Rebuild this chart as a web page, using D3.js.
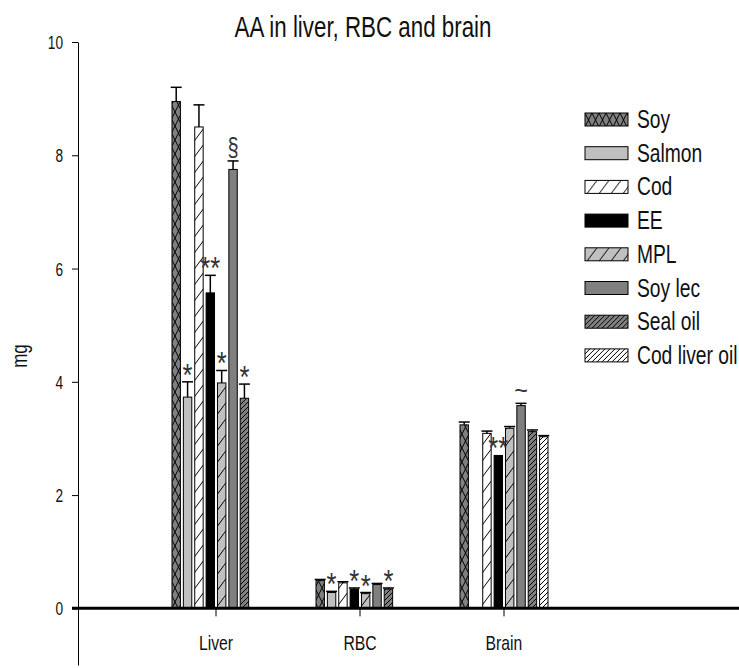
<!DOCTYPE html>
<html>
<head>
<meta charset="utf-8">
<script src="https://cdn.jsdelivr.net/npm/d3@7"></script>
<style>
  body { margin: 0; background: white; }
  text { font-family: "Liberation Sans", Arial, sans-serif; fill: #111; }
</style>
</head>
<body>
<div id="chart"></div>
<script>
const width = 739, height = 668;

// categories and series
const groups = ["Liver", "RBC", "Brain"];
const series = ["Soy", "Salmon", "Cod", "EE", "MPL", "Soy lec", "Seal oil", "Cod liver oil"];

// values per series (Liver, RBC, Brain), null = no bar
const soy      = [8.95, 0.49, 3.24];
const salmon   = [3.73, 0.28, null];
const cod      = [8.50, 0.45, 3.09];
const ee       = [5.57, 0.34, 2.70];
const mpl      = [3.98, 0.26, 3.18];
const soyLec   = [7.75, 0.42, 3.58];
const sealOil  = [3.71, 0.34, 3.12];
const codLiver = [null, null, 3.03];

// error (upper) per series
const soyErr      = [0.25, 0.02, 0.05];
const salmonErr   = [0.27, 0.02, null];
const codErr      = [0.39, 0.02, 0.04];
const eeErr       = [0.31, 0.02, 0.00];
const mplErr      = [0.22, 0.02, 0.03];
const soyLecErr   = [0.15, 0.02, 0.04];
const sealOilErr  = [0.25, 0.02, 0.03];
const codLiverErr = [null, null, 0.02];

// significance marks per series
const soyMark      = ["", "", ""];
const salmonMark   = ["*", "*", ""];
const codMark      = ["", "", ""];
const eeMark       = ["**", "*", "**"];
const mplMark      = ["*", "*", ""];
const soyLecMark   = ["§", "", "~"];
const sealOilMark  = ["*", "*", ""];
const codLiverMark = ["", "", ""];

const yTicks = [0, 2, 4, 6, 8, 10];

const valueRows = [soy, salmon, cod, ee, mpl, soyLec, sealOil, codLiver];
const errRows = [soyErr, salmonErr, codErr, eeErr, mplErr, soyLecErr, sealOilErr, codLiverErr];
const markRows = [soyMark, salmonMark, codMark, eeMark, mplMark, soyLecMark, sealOilMark, codLiverMark];

// flat table for drawing
const data = [];
series.forEach((s, i) => {
  groups.forEach((g, j) => {
    if (valueRows[i][j] !== null) {
      data.push({series: s, group: g, value: valueRows[i][j], err: errRows[i][j], mark: markRows[i][j]});
    }
  });
});

const svg = d3.select("#chart").append("svg")
  .attr("width", width)
  .attr("height", height)
  .style("background-color", "white");

// fill patterns
const defs = svg.append("defs");
function pattern(id, w, h, bg, d, sw) {
  const p = defs.append("pattern")
    .attr("id", id)
    .attr("patternUnits", "userSpaceOnUse")
    .attr("width", w).attr("height", h);
  p.append("rect").attr("width", w).attr("height", h).attr("fill", bg);
  p.append("path").attr("d", d).attr("stroke", "#000").attr("stroke-width", sw).attr("fill", "none");
}
pattern("p-soy", 14, 14, "#808080", "M0,0L7,14L14,0M0,14L7,0L14,14", 1);
pattern("p-cod", 12, 16, "#ffffff", "M0,16L12,0", 1);
pattern("p-mpl", 12, 16, "#c0c0c0", "M0,16L12,0", 1);
pattern("p-seal", 5, 5, "#808080", "M0,5L5,0M-1,1L1,-1M4,6L6,4", 1);
pattern("p-clo", 5, 5, "#ffffff", "M0,5L5,0M-1,1L1,-1M4,6L6,4", 1);

const fills = {
  "Soy": "url(#p-soy)",
  "Salmon": "#c0c0c0",
  "Cod": "url(#p-cod)",
  "EE": "#000000",
  "MPL": "url(#p-mpl)",
  "Soy lec": "#808080",
  "Seal oil": "url(#p-seal)",
  "Cod liver oil": "url(#p-clo)"
};

// scales
const x0 = d3.scaleBand()
  .domain(groups)
  .range([144, 576]);

const x1 = d3.scaleBand()
  .domain(series)
  .range([x0.bandwidth() / 2 - 44, x0.bandwidth() / 2 + 44])
  .paddingInner(0.26);

const y = d3.scaleLinear()
  .domain([-1, 10])
  .range([665, 42]);

// the original font is horizontally squeezed, so text is drawn scaled in x
function label(g, x, yy, txt, size, anchor, rot, sx) {
  return g.append("text")
    .attr("transform", `translate(${x},${yy})` + (rot ? ` rotate(${rot})` : "") + ` scale(${sx || 0.77},1)`)
    .attr("text-anchor", anchor || "middle")
    .style("font-size", size + "px")
    .text(txt);
}

// title
label(svg, 363, 37, "AA in liver, RBC and brain", 29, "middle");

// y axis
const yAxis = svg.append("g")
  .attr("transform", "translate(78,0)")
  .call(d3.axisLeft(y).tickValues(yTicks).tickSize(6).tickSizeOuter(0).tickFormat(""));
yAxis.select(".domain").attr("stroke", "#000");
yTicks.forEach(t => label(svg, 63, y(t) + 7, t, 19, "end", 0, 0.72));
label(svg, 27, 356, "mg", 22, "middle", -90);

// bars
const bars = svg.append("g");
bars.selectAll("rect")
  .data(data)
  .enter().append("rect")
    .attr("x", d => x0(d.group) + x1(d.series))
    .attr("y", d => y(d.value))
    .attr("width", x1.bandwidth())
    .attr("height", d => y(0) - y(d.value))
    .attr("fill", d => fills[d.series])
    .attr("stroke", "#000")
    .attr("stroke-width", 1);

// error bars (upper only)
const errs = svg.append("g").attr("stroke", "#000").attr("stroke-width", 1.5);
data.filter(d => d.err > 0).forEach(d => {
  const cx = x0(d.group) + x1(d.series) + x1.bandwidth() / 2;
  errs.append("line").attr("x1", cx).attr("x2", cx).attr("y1", y(d.value)).attr("y2", y(d.value + d.err));
  errs.append("line").attr("x1", cx - 5.5).attr("x2", cx + 5.5).attr("y1", y(d.value + d.err)).attr("y2", y(d.value + d.err));
});

// significance marks
data.filter(d => d.mark).forEach(d => {
  const cx = x0(d.group) + x1(d.series) + x1.bandwidth() / 2;
  const top = y(d.value + d.err);
  let t;
  if (d.mark.includes("*")) t = label(svg, cx, top + 4, d.mark, 32, "middle", 0, 0.8);
  else if (d.mark === "§") t = label(svg, cx, top - 5, d.mark, 26, "middle");
  else t = label(svg, cx, top - 4, d.mark, 26, "middle", 0, 0.9);
  t.style("fill", "#333");
});

// x axis: heavy zero line and group ticks
svg.append("line")
  .attr("x1", 72).attr("x2", width)
  .attr("y1", y(0)).attr("y2", y(0))
  .attr("stroke", "#000").attr("stroke-width", 3);
groups.forEach(g => {
  const cx = x0(g) + x0.bandwidth() / 2;
  svg.append("line").attr("x1", cx).attr("x2", cx).attr("y1", y(0)).attr("y2", y(0) + 8)
    .attr("stroke", "#000").attr("stroke-width", 1);
  label(svg, cx, 650, g, 21, "middle", 0, 0.75);
});

// legend
const legend = svg.append("g").attr("transform", "translate(585,113)");
series.forEach((s, i) => {
  const row = legend.append("g").attr("transform", `translate(0,${i * 33.7})`);
  row.append("rect").attr("width", 43).attr("height", 13)
    .attr("fill", fills[s]).attr("stroke", "#000").attr("stroke-width", 1);
  label(row, 52, 15, s, 25, "start");
});
</script>
</body>
</html>
